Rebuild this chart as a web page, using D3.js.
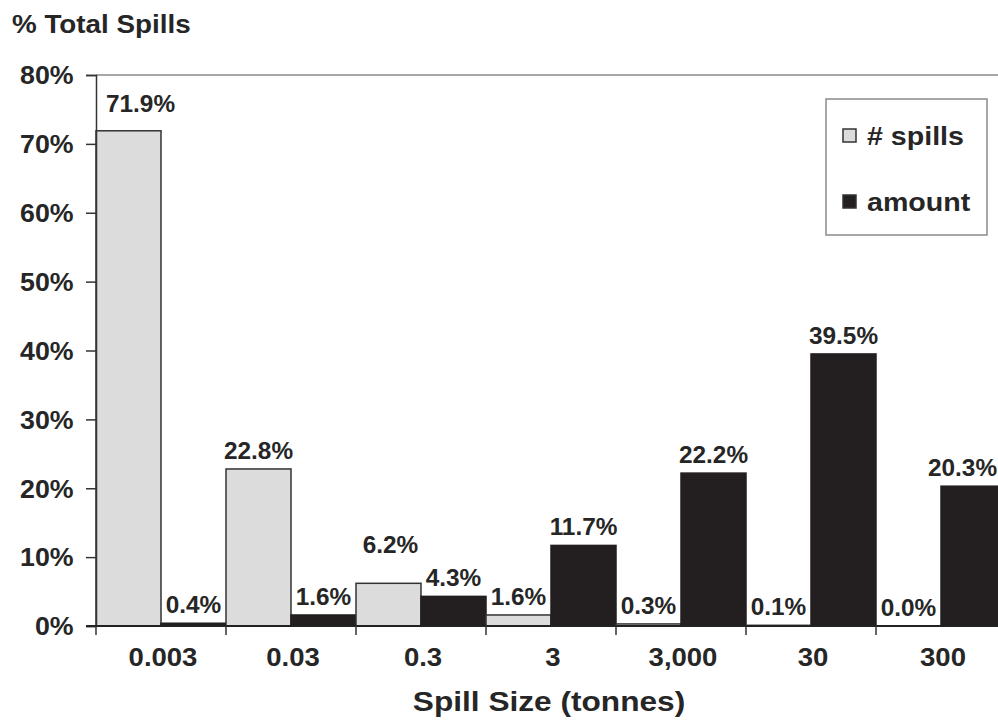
<!DOCTYPE html>
<html>
<head>
<meta charset="utf-8">
<script src="https://cdn.jsdelivr.net/npm/d3@7"></script>
<style>
  html, body { margin: 0; padding: 0; background: #fff; }
  svg { display: block; font-family: "Liberation Sans", Arial, sans-serif; font-weight: bold; }
</style>
</head>
<body>
<svg id="chart" width="998" height="720"></svg>
<script>
// ---- data ----
const categories = ["0.003", "0.03", "0.3", "3", "3,000", "30", "300"];
const spillsPct  = [71.9, 22.8, 6.2, 1.6, 0.3, 0.1, 0.0];
const amountPct  = [0.4, 1.6, 4.3, 11.7, 22.2, 39.5, 20.3];
const yTicks     = [0, 10, 20, 30, 40, 50, 60, 70, 80];
const seriesNames = ["# spills", "amount"];

// ---- drawing ----
const svg = d3.select("#chart");
const textColor = "#262626";
const lightFill = "#dcdcdc";
const darkFill = "#231f20";

// text helper with slight horizontal stretch (original text is wide)
function label(parent, px, py, str, size, sx, anchor) {
  return parent.append("text")
    .attr("transform", `translate(${px},${py}) scale(${sx},1)`)
    .attr("text-anchor", anchor || "start")
    .attr("font-size", size)
    .attr("fill", textColor)
    .text(str);
}

const x0 = 96, bandW = 130;
const x = d3.scaleBand().domain(categories).range([x0, x0 + bandW * categories.length]).padding(0);
const sub = d3.scaleBand().domain(seriesNames).range([0, x.bandwidth()]).padding(0);
const y = d3.scaleLinear().domain([0, 80]).range([626, 75]);

// plot top border
svg.append("line").attr("x1", x0).attr("x2", 998).attr("y1", y(80)).attr("y2", y(80))
  .attr("stroke", "#8a8a8a").attr("stroke-width", 1.5);

// bars
const rows = categories.map((c, i) => ({ c, vals: [spillsPct[i], amountPct[i]] }));
const g = svg.append("g");
rows.forEach(r => {
  r.vals.forEach((v, j) => {
    g.append("rect")
      .attr("x", x(r.c) + sub(seriesNames[j]))
      .attr("y", y(v))
      .attr("width", sub.bandwidth())
      .attr("height", y(0) - y(v))
      .attr("fill", j === 0 ? lightFill : darkFill)
      .attr("stroke", j === 0 ? "#333" : darkFill)
      .attr("stroke-width", 1.5);
  });
});

// value labels (small manual nudges like the original)
const nudge = { "0-0": [12, -9], "2-0": [2, -20], "6-1": [-11, 0] };
rows.forEach((r, i) => {
  r.vals.forEach((v, j) => {
    const n = nudge[i + "-" + j] || [0, 0];
    label(svg, x(r.c) + sub(seriesNames[j]) + sub.bandwidth() / 2 + n[0], y(v) - 10 + n[1],
      v.toFixed(1) + "%", 23, 1.06, "middle");
  });
});

// y axis
const yAxis = d3.axisLeft(y).tickValues(yTicks).tickFormat(d => d + "%").tickSize(10).tickPadding(11);
const ya = svg.append("g").attr("transform", `translate(${x0},0)`).call(yAxis);
ya.select(".domain").attr("stroke", "#333").attr("stroke-width", 1.5);
ya.selectAll(".tick line").attr("stroke", "#333").attr("stroke-width", 1.5);
ya.selectAll(".tick text").attr("font-size", 25).attr("fill", textColor)
  .attr("font-family", "'Liberation Sans', Arial, sans-serif").attr("font-weight", "bold")
  .attr("dy", "0.35em").attr("transform", "scale(1.07,1)");

// x axis baseline
svg.append("line").attr("x1", x0 - 10).attr("x2", 998).attr("y1", y(0)).attr("y2", y(0))
  .attr("stroke", "#222").attr("stroke-width", 2);
// x ticks at band boundaries
categories.forEach(c => {
  svg.append("line").attr("x1", x(c)).attr("x2", x(c)).attr("y1", y(0)).attr("y2", y(0) + 9)
    .attr("stroke", "#333").attr("stroke-width", 1.5);
});
// category labels
categories.forEach(c => {
  label(svg, x(c) + x.bandwidth() / 2 + 2, 666, c, 25, 1.1, "middle");
});

// titles
label(svg, 549, 711, "Spill Size (tonnes)", 28, 1.13, "middle");
label(svg, 12, 33, "% Total Spills", 26, 1.07, "start");

// legend
const lg = svg.append("g");
lg.append("rect").attr("x", 826).attr("y", 99).attr("width", 161).attr("height", 136)
  .attr("fill", "#fff").attr("stroke", "#8a8a8a").attr("stroke-width", 1.5);
seriesNames.forEach((s, j) => {
  const yy = j === 0 ? 136 : 202;
  lg.append("rect").attr("x", 843).attr("y", yy - 7).attr("width", 13).attr("height", 13)
    .attr("fill", j === 0 ? lightFill : darkFill).attr("stroke", "#333").attr("stroke-width", 1.5);
  label(lg, 867, yy + 9, s, 26, 1.1, "start");
});
</script>
</body>
</html>
